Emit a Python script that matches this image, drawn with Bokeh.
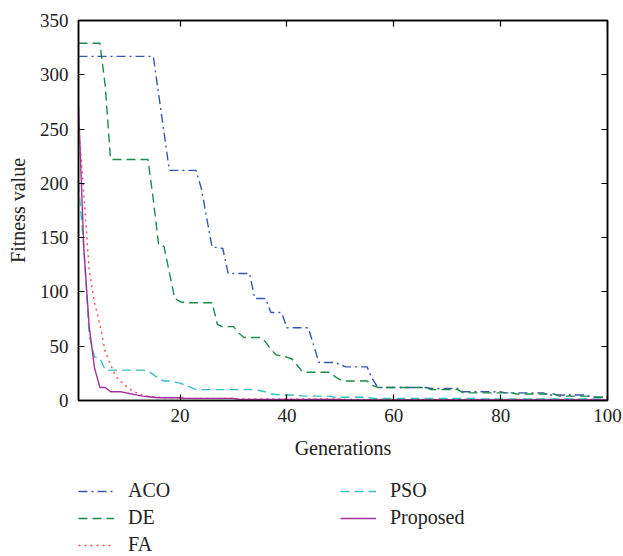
from bokeh.plotting import figure
from bokeh.models import Range1d, LinearAxis, FixedTicker, Legend, LegendItem
from bokeh.layouts import column
from bokeh.embed import file_html
from bokeh.resources import INLINE

generations = list(range(1, 101))

aco = ([317] * 15 + [282, 247, 212] + [212] * 5 + [195, 168, 141, 141, 140] + [117] * 5
       + [94] * 3 + [81] * 3 + [67] * 5 + [51] + [35] * 4 + [33] + [31] * 5 + [20]
       + [12] * 10 + [11] * 6 + [8] * 8 + [7] * 8 + [5] * 8 + [3] * 4)
de = ([329] * 5 + [290, 222] + [222] * 7 + [185, 143, 142, 118, 94, 91] + [90] * 6
      + [70] + [68] * 3 + [62] + [58] * 4 + [54, 47, 42, 41, 40, 38, 32] + [26] * 6
      + [22, 19] + [18] * 5 + [14] + [12] * 10 + [10] * 6 + [7] * 10 + [6] * 8
      + [4] * 7 + [3] * 3)
fa = ([255, 190, 120, 90, 70, 45, 33, 22, 17, 13, 9, 7, 5, 4, 3.5, 3] + [2.5] * 4
      + [2] * 10 + [1.5] * 20 + [1] * 50)
pso = ([200, 140, 60, 40, 39, 28] + [28] * 7 + [27, 24, 20, 18, 18, 17, 16, 14, 12, 10]
       + [10] * 11 + [9, 8, 6, 5.5] + [5] * 4 + [4] * 6 + [3] * 7 + [2] * 20 + [1.5] * 25)
proposed = ([271, 140, 68, 30, 12, 12, 8, 8, 8, 7, 6, 5, 4, 3.5, 3] + [2.5] * 5
            + [2] * 10 + [1] * 20 + [0.5] * 50)

series_names = ["ACO", "DE", "FA", "PSO", "Proposed"]
series_values = [aco, de, fa, pso, proposed]
x_ticks = [20, 40, 60, 80, 100]
y_ticks = [0, 50, 100, 150, 200, 250, 300, 350]

styles = {
    "ACO": dict(color="#3557b0", dash="9 4 2 4"),
    "DE": dict(color="#1b8a4a", dash="9 5"),
    "FA": dict(color="#ff4a4a", dash="2 4"),
    "PSO": dict(color="#35c0c0", dash="9 5"),
    "Proposed": dict(color="#a2309c", dash="solid"),
}

FONT = "Liberation Serif"

p = figure(width=623, height=470, output_backend="svg", toolbar_location=None,
           x_range=Range1d(1, 100), y_range=Range1d(0, 350),
           min_border_left=78, min_border_right=16, min_border_top=20, min_border_bottom=70)
p.background_fill_color = "white"
p.border_fill_color = "white"
p.xgrid.visible = False
p.ygrid.visible = False
p.outline_line_color = "black"
p.outline_line_width = 1.5

for name, vals in zip(series_names, series_values):
    st = styles[name]
    p.line(generations, vals, line_color=st["color"], line_dash=st["dash"], line_width=1.4)

def style_axis(ax, labels=True):
    ax.axis_line_color = "black"
    ax.axis_line_width = 1.5
    ax.major_tick_line_color = "black"
    ax.major_tick_line_width = 1.2
    ax.major_tick_in = 6
    ax.major_tick_out = 0
    ax.minor_tick_line_color = None
    ax.major_label_text_font = FONT
    ax.major_label_text_color = "#222222"
    ax.axis_label_text_font = FONT
    ax.axis_label_text_font_style = "normal"
    ax.axis_label_text_font_size = "20px"
    ax.axis_label_text_color = "#222222"
    if labels:
        ax.major_label_text_font_size = "19px"
    else:
        ax.major_label_text_color = None
        ax.major_label_text_font_size = "1px"
        ax.major_label_standoff = 0

xa = p.xaxis[0]
ya = p.yaxis[0]
xa.ticker = FixedTicker(ticks=x_ticks)
ya.ticker = FixedTicker(ticks=y_ticks)
style_axis(xa)
style_axis(ya)
xa.axis_label = "Generations"
ya.axis_label = "Fitness value"
xa.major_label_standoff = 8
ya.major_label_standoff = 10
xa.axis_label_standoff = 12
ya.axis_label_standoff = 8

top = LinearAxis(ticker=FixedTicker(ticks=x_ticks))
right = LinearAxis(ticker=FixedTicker(ticks=y_ticks))
style_axis(top, labels=False)
style_axis(right, labels=False)
p.add_layout(top, "above")
p.add_layout(right, "right")

# legend panel below the chart (its lines use ranges that keep them out of view)
pl = figure(width=623, height=86, output_backend="svg", toolbar_location=None,
            x_range=Range1d(-20, -10), y_range=Range1d(-20, -10),
            x_axis_type=None, y_axis_type=None,
            min_border_left=0, min_border_right=0, min_border_top=0, min_border_bottom=0)
pl.outline_line_color = None
pl.xgrid.visible = False
pl.ygrid.visible = False
legend_renderers = []
for name, vals in zip(series_names, series_values):
    st = styles[name]
    legend_renderers.append(pl.line(generations, vals, line_color=st["color"],
                                    line_dash=st["dash"], line_width=1.4))

items = [LegendItem(label=n, renderers=[r]) for n, r in zip(series_names, legend_renderers)]
legend = Legend(items=items, location=(0, 0), orientation="vertical", nrows=3,
                label_text_font=FONT, label_text_font_size="20px", label_text_color="#222222",
                glyph_width=36, glyph_height=20, label_height=20, label_width=208,
                label_standoff=14, spacing=4, padding=0, margin=0,
                border_line_color=None, background_fill_alpha=0)
pl.add_layout(legend, "center")

layout = column(p, pl, spacing=0)
open("out.html", "w").write(file_html(layout, INLINE))
